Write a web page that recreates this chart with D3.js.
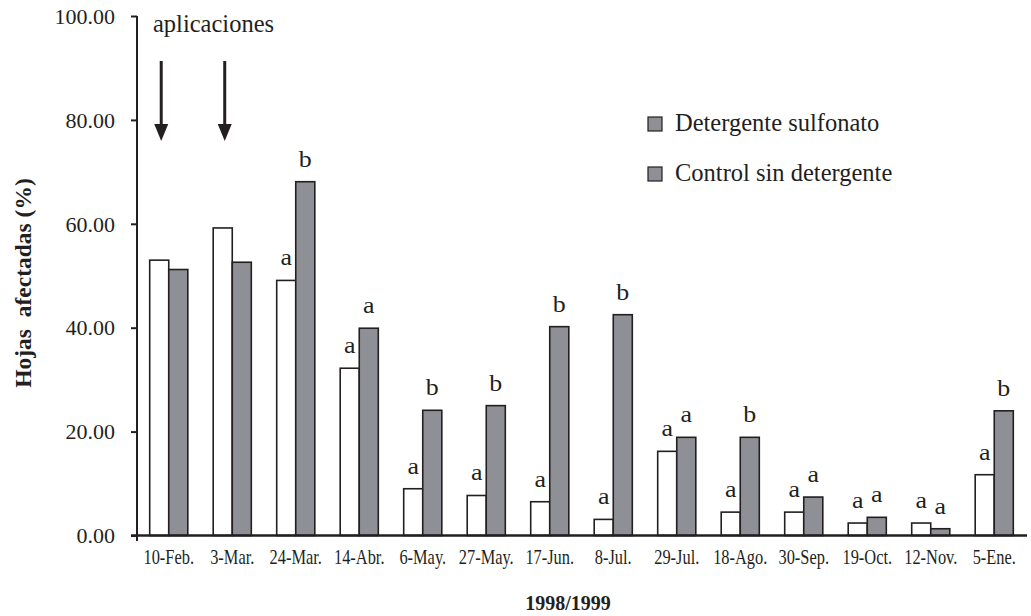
<!DOCTYPE html>
<html><head><meta charset="utf-8">
<script src="https://cdn.jsdelivr.net/npm/d3@7"></script>
<style>
html,body{margin:0;padding:0;background:#fff;}
svg{display:block;font-family:"Liberation Serif","Times New Roman",serif;}
</style></head>
<body>
<svg id="chart" width="1031" height="616"></svg>
<script>
const categories = ["10-Feb.","3-Mar.","24-Mar.","14-Abr.","6-May.","27-May.","17-Jun.","8-Jul.","29-Jul.","18-Ago.","30-Sep.","19-Oct.","12-Nov.","5-Ene."];
const detergente = [53.0, 59.2, 49.1, 32.2, 9.0, 7.7, 6.5, 3.1, 16.2, 4.5, 4.5, 2.4, 2.4, 11.7];
const control    = [51.2, 52.6, 68.1, 39.9, 24.1, 25.0, 40.2, 42.5, 18.9, 18.9, 7.4, 3.5, 1.3, 24.0];
const lettersDet = ["", "", "a","a","a","a","a","a","a","a","a","a","a","a"];
const lettersCon = ["", "", "b","a","b","b","b","b","a","b","a","a","a","b"];
const yTicks = [0, 20, 40, 60, 80, 100];
const seriesNames = ["Detergente sulfonato","Control sin detergente"];
const applications = ["10-Feb.","3-Mar."];

const svg = d3.select("#chart");
const x0 = 137, x1 = 1026, yTop = 16, yBot = 535.5;
const ink = "#231f20", grey = "#8f9095";

const y = d3.scaleLinear().domain([0,100]).range([yBot, yTop]);
const x = d3.scaleBand().domain(categories).range([x0, x1]).paddingInner(0.4).paddingOuter(0.2);
const xs = d3.scaleBand().domain(["det","con"]).range([0, x.bandwidth()]);

// bars
const rows = categories.map((c,i)=>({c, det:detergente[i], con:control[i], ld:lettersDet[i], lc:lettersCon[i]}));
const g = svg.append("g");
rows.forEach(r=>{
  [["det", r.det, "#fff", r.ld],["con", r.con, grey, r.lc]].forEach(([k,v,fill,lab])=>{
    const bx = x(r.c) + xs(k);
    g.append("rect").attr("x", bx).attr("y", y(v)).attr("width", xs.bandwidth()).attr("height", y(0)-y(v))
      .attr("fill", fill).attr("stroke", ink).attr("stroke-width", 1.6);
    if (lab) {
      g.append("text").attr("transform", `translate(${bx + xs.bandwidth()/2},${y(v) - 15}) scale(1.08,1)`)
        .attr("text-anchor","middle").attr("font-size", 24).attr("fill", ink).text(lab);
    }
  });
});

// y axis
const yAxis = d3.axisLeft(y).tickValues(yTicks).tickSize(6).tickPadding(16).tickFormat(d3.format(".2f"));
const ya = svg.append("g").attr("transform", `translate(${x0},0)`).call(yAxis);
ya.select(".domain").remove();
ya.selectAll(".tick line").attr("stroke", ink).attr("stroke-width", 2);
ya.selectAll(".tick text").attr("font-family","Liberation Serif").attr("font-size", 22).attr("fill", ink).attr("dy","0.33em");
svg.append("line").attr("x1", x0).attr("x2", x0).attr("y1", yTop).attr("y2", yBot+5.5).attr("stroke", ink).attr("stroke-width", 2);
svg.append("line").attr("x1", x0-6).attr("x2", x1+1).attr("y1", yBot).attr("y2", yBot).attr("stroke", ink).attr("stroke-width", 2.4);

// x labels (condensed)
categories.forEach(c=>{
  svg.append("text").attr("transform", `translate(${x(c)+x.bandwidth()/2},564) scale(0.8,1)`)
    .attr("text-anchor","middle").attr("font-size", 20.5).attr("fill", ink).text(c);
});

// axis titles
svg.append("text").attr("x", 568).attr("y", 610).attr("text-anchor","middle").attr("font-size", 20)
  .attr("font-weight","bold").attr("fill", ink).text("1998/1999");
svg.append("text").attr("transform","translate(31,283) rotate(-90)").attr("text-anchor","middle")
  .attr("font-size", 23.5).attr("font-weight","bold").attr("fill", ink).attr("xml:space","preserve").text("Hojas  afectadas (%)");

// applications annotation
svg.append("text").attr("x", 153).attr("y", 32).attr("font-size", 24.5).attr("fill", ink).text("aplicaciones");
applications.forEach(c=>{
  const ax = x(c) + xs.bandwidth()/2 + 2;
  svg.append("line").attr("x1", ax).attr("x2", ax).attr("y1", 61).attr("y2", 128).attr("stroke", ink).attr("stroke-width", 3);
  svg.append("path").attr("d", `M${ax-7},124 L${ax+7},124 L${ax},141 Z`).attr("fill", ink);
});

// legend
seriesNames.forEach((n,i)=>{
  const ly = 117 + i*50;
  svg.append("rect").attr("x", 648).attr("y", ly).attr("width", 14).attr("height", 14)
    .attr("fill", grey).attr("stroke", ink).attr("stroke-width", 1.2);
  svg.append("text").attr("x", 675).attr("y", ly + 14).attr("font-size", 24.5).attr("fill", ink).text(n);
});
</script>
</body></html>
